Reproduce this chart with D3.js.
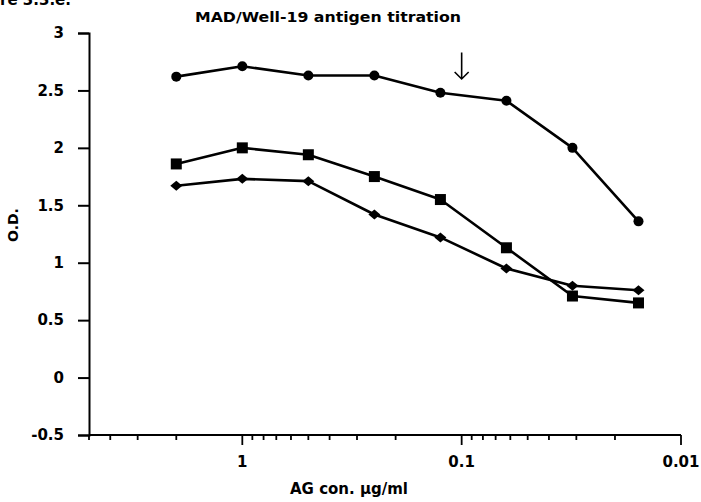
<!DOCTYPE html>
<html>
<head>
<meta charset="utf-8">
<script src="https://cdn.jsdelivr.net/npm/d3@7"></script>
<style>
  html, body { margin: 0; padding: 0; background: #fff; }
  svg { display: block; }
  text { font-family: "DejaVu Sans", sans-serif; font-weight: bold; fill: #000; }
</style>
</head>
<body>
<svg id="chart" width="701" height="502"></svg>
<script>
// ---- data ----
const concentrations = [2, 1, 0.5, 0.25, 0.125, 0.0625, 0.03125, 0.015625];
const circleSeries  = [2.62, 2.71, 2.63, 2.63, 2.48, 2.41, 2.00, 1.36];
const squareSeries  = [1.86, 2.00, 1.94, 1.75, 1.55, 1.13, 0.71, 0.65];
const diamondSeries = [1.67, 1.73, 1.71, 1.42, 1.22, 0.95, 0.80, 0.76];
const yTickValues = [-0.5, 0, 0.5, 1, 1.5, 2, 2.5, 3];
const yTickLabels = ["-0.5", "0", "0.5", "1", "1.5", "2", "2.5", "3"];
const xMajorTicks = [1, 0.1, 0.01];
const xMajorLabels = ["1", "0.1", "0.01"];
const arrowX = 0.1, arrowTop = 2.83, arrowBottom = 2.60;
const title = "MAD/Well-19 antigen titration";
const figLabel = "Figure 3.3.e.";
const xTitle = "AG con. \u00b5g/ml";
const yTitle = "O.D.";

// ---- layout ----
const svg = d3.select("#chart");
const x = d3.scaleLog().domain([5, 0.01]).range([89, 681]);
const y = d3.scaleLinear().domain([-0.5, 3]).range([435, 33]);

// figure label (cut off at top-left, as in the reference)
svg.append("text").attr("x", 71).attr("y", 5).attr("text-anchor", "end")
  .attr("font-size", 15).text(figLabel);

// title
svg.append("text").attr("x", 328).attr("y", 22).attr("text-anchor", "middle")
  .attr("font-size", 14.5).attr("textLength", 266).attr("lengthAdjust", "spacingAndGlyphs")
  .text(title);

// y axis
const yAxis = d3.axisLeft(y).tickValues(yTickValues)
  .tickFormat((d, i) => yTickLabels[i]).tickSize(11).tickPadding(14);
const yg = svg.append("g").attr("transform", `translate(${x.range()[0]},0)`).call(yAxis);
yg.select(".domain").attr("stroke", "#000").attr("stroke-width", 2);
yg.selectAll(".tick line").attr("stroke", "#000").attr("stroke-width", 2);
yg.selectAll(".tick text").attr("font-size", 15).attr("font-family", "DejaVu Sans")
  .attr("font-weight", "bold").attr("fill", "#000");

// x axis (log, reversed)
const allTicks = x.ticks();
const xg = svg.append("g").attr("transform", `translate(0,${y.range()[0]})`);
xg.append("line").attr("x1", x.range()[0]).attr("x2", x.range()[1])
  .attr("stroke", "#000").attr("stroke-width", 2);
xg.selectAll("line.tick").data(allTicks).join("line").attr("class", "tick")
  .attr("x1", d => x(d)).attr("x2", d => x(d)).attr("y1", 0)
  .attr("y2", d => xMajorTicks.some(m => Math.abs(m - d) < 1e-9) ? 10 : 5)
  .attr("stroke", "#000").attr("stroke-width", 1.8);
xg.selectAll("text.tl").data(xMajorTicks).join("text").attr("class", "tl")
  .attr("x", d => x(d)).attr("y", 32).attr("text-anchor", "middle")
  .attr("font-size", 15).text((d, i) => xMajorLabels[i]);

// axis titles
svg.append("text").attr("x", 349).attr("y", 494).attr("text-anchor", "middle")
  .attr("font-size", 15).text(xTitle);
svg.append("text").attr("transform", "translate(18,225) rotate(-90)")
  .attr("text-anchor", "middle").attr("font-size", 14).text(yTitle);

// series
const line = d3.line().x(d => x(d[0])).y(d => y(d[1]));
function series(vals, shape) {
  const pts = concentrations.map((c, i) => [c, vals[i]]);
  svg.append("path").attr("d", line(pts)).attr("fill", "none")
    .attr("stroke", "#000").attr("stroke-width", 2.6).attr("stroke-linejoin", "round");
  const g = svg.append("g");
  if (shape === "circle") {
    g.selectAll("circle").data(pts).join("circle")
      .attr("cx", d => x(d[0])).attr("cy", d => y(d[1])).attr("r", 5).attr("fill", "#000");
  } else if (shape === "square") {
    g.selectAll("rect").data(pts).join("rect")
      .attr("x", d => x(d[0]) - 5.5).attr("y", d => y(d[1]) - 5.5)
      .attr("width", 11).attr("height", 11).attr("fill", "#000");
  } else {
    g.selectAll("path").data(pts).join("path")
      .attr("d", d => { const cx = x(d[0]), cy = y(d[1]);
        return `M${cx - 6},${cy}L${cx},${cy - 5}L${cx + 6},${cy}L${cx},${cy + 5}Z`; })
      .attr("fill", "#000");
  }
}
series(circleSeries, "circle");
series(squareSeries, "square");
series(diamondSeries, "diamond");

// arrow annotation
const ax = x(arrowX), ay1 = y(arrowTop), ay2 = y(arrowBottom);
svg.append("path")
  .attr("d", `M${ax},${ay1}L${ax},${ay2}M${ax - 7},${ay2 - 7}L${ax},${ay2}L${ax + 7},${ay2 - 7}`)
  .attr("fill", "none").attr("stroke", "#000").attr("stroke-width", 1.6);
</script>
</body>
</html>
